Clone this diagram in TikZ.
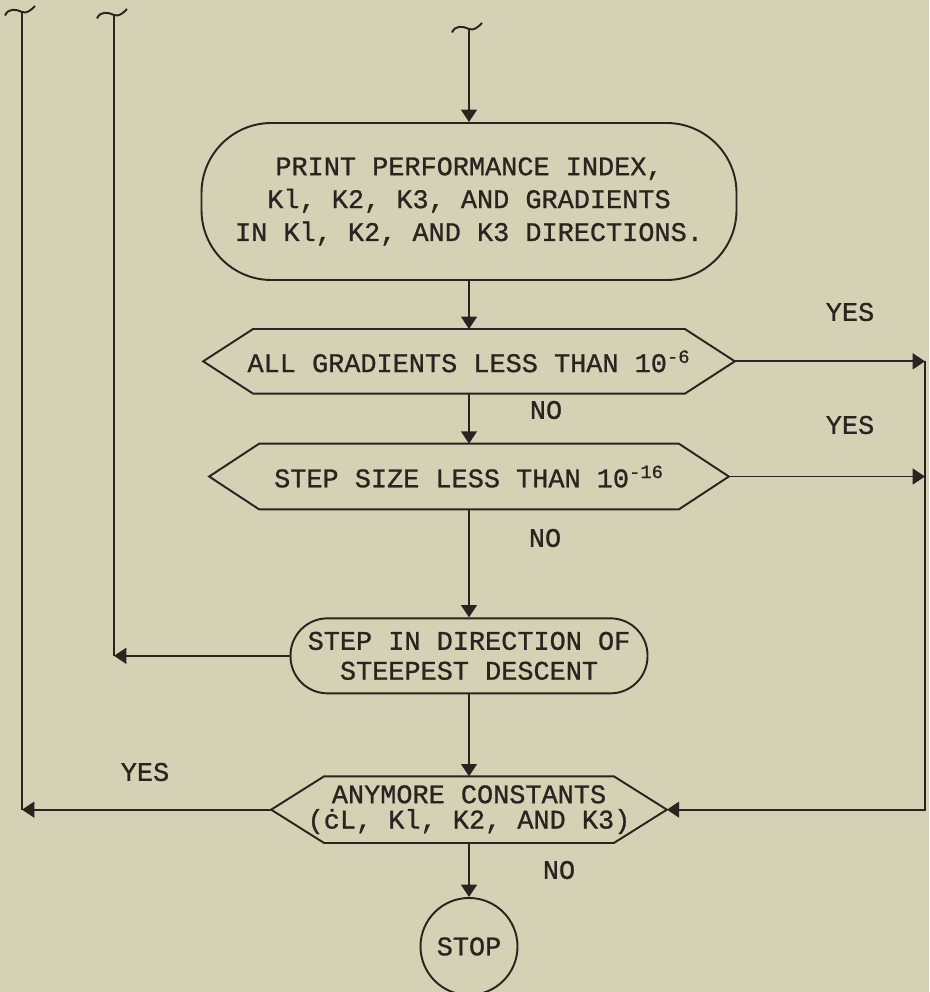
\documentclass[tikz,border=0pt]{standalone}
\usepackage{fontspec}
\newfontfamily\fcmono[BoldFont={Liberation Mono},
  BoldFeatures={FakeBold=0.9}]{Liberation Mono}
\usepackage{tikz}
\usetikzlibrary{arrows.meta,positioning}

\begin{document}
\begin{tikzpicture}[
  color={rgb,255:red,40;green,36;blue,32},
  fcTerm/.style={rectangle, draw, line width=1.1pt,
    align=center, inner sep=2pt,
    font=\fcmono\bfseries\fontsize{15.3}{18.7}\selectfont},
  fcDec/.style={rectangle, inner sep=0pt,
    align=center, font=\fcmono\bfseries\fontsize{15.3}{14.4}\selectfont},
  fcStop/.style={circle, draw, line width=1.1pt,
    minimum size=1.94cm, inner sep=0pt,
    font=\fcmono\bfseries\fontsize{15.3}{18}\selectfont},
  fcLab/.style={inner sep=1pt, font=\fcmono\bfseries\fontsize{15.3}{18}\selectfont},
  fcArr/.style={-{Triangle[length=7pt,width=9pt]}, line width=1pt},
  fcLine/.style={line width=1pt},
]

  %% ── Page and frame ─────────────────────────────────────────
  \fill[fill={rgb,255:red,213;green,209;blue,181}] (0,0) rectangle (18.58,-19.84);
  \useasboundingbox (0,0) rectangle (18.58,-19.84);

  %% ── Loose ends at the top ──────────────────────────────────
  \coordinate (top1) at (0.44,-0.24);
  \coordinate (top2) at (2.28,-0.30);
  \coordinate (top3) at (9.38,-0.58);
  \coordinate (rx)   at (18.50,0);

  %% ── Print block ────────────────────────────────────────────
  \node[fcTerm, rounded corners=1.4cm,
    minimum width=10.7cm, minimum height=3.14cm] (print) at (9.38,-4.03) {%
    PRINT PERFORMANCE INDEX,\\
    Kl, K2, K3, AND GRADIENTS\\
    IN Kl, K2, AND K3 DIRECTIONS.};

  %% ── Tests ──────────────────────────────────────────────────
  \node[fcDec, minimum width=10.62cm, minimum height=1.28cm,
    below=0.96cm of print] (grad) {%
    ALL GRADIENTS LESS THAN 10\textsuperscript{-6}};
  \node[fcDec, minimum width=10.38cm, minimum height=1.30cm,
    below=1.0cm of grad] (size) {%
    STEP SIZE LESS THAN 10\textsuperscript{-16}};

  %% ── Descent step ───────────────────────────────────────────
  \node[fcTerm, rounded corners=0.74cm,
    font=\fcmono\bfseries\fontsize{15.3}{17}\selectfont,
    minimum width=7.14cm, minimum height=1.5cm,
    below=2.16cm of size] (steep) {%
    STEP IN DIRECTION OF\\
    STEEPEST DESCENT};

  %% ── Last test and stop ─────────────────────────────────────
  \node[fcDec, minimum width=7.9cm, minimum height=1.32cm,
    below=1.64cm of steep] (more) {%
    ANYMORE CONSTANTS\\
    (ċL, Kl, K2, AND K3)};
  \node[fcStop, below=1.08cm of more] (stop) {STOP};

  %% ── Hexagon outlines ───────────────────────────────────────
  \foreach \n/\s in {grad/1.0, size/1.0, more/1.06}
    \draw[line width=1.1pt] (\n.west) -- ([xshift=\s cm]\n.north west)
      -- ([xshift=-\s cm]\n.north east) -- (\n.east)
      -- ([xshift=-\s cm]\n.south east) -- ([xshift=\s cm]\n.south west)
      -- cycle;

  %% ── Labels ─────────────────────────────────────────────────
  \node[fcLab] (yes1) at (17.00,-6.24) {YES};
  \node[fcLab] (yes2) at (17.00,-8.50) {YES};
  \node[fcLab] (no1)  at (10.92,-8.20) {NO};
  \node[fcLab] (no2)  at (10.90,-10.76) {NO};
  \node[fcLab] (yes3) at (2.90,-15.44) {YES};
  \node[fcLab] (no3)  at (11.18,-17.40) {NO};

  %% ── Tildes ─────────────────────────────────────────────────
  \foreach \c in {top1, top2, top3}
    \draw[line width=1.1pt] ([shift={(-0.34,-0.07)}]\c)
      .. controls ([shift={(-0.28,0.08)}]\c) and ([shift={(-0.12,0.06)}]\c) .. (\c)
      .. controls ([shift={(0.10,-0.04)}]\c) and ([shift={(0.18,0.04)}]\c)
      .. ([shift={(0.26,0.12)}]\c);

  %% ── Arrows ─────────────────────────────────────────────────
  \draw[fcArr] (top3) -- (print.north);
  \foreach \f/\t in {print/grad, grad/size, size/steep, steep/more, more/stop}
    \draw[fcArr] (\f.south) -- (\t.north);

  \draw[fcArr] (grad.east) -- (grad.east -| rx);
  \draw[fcArr] (size.east) -- (size.east -| rx);
  \draw[fcArr] (grad.east -| rx) -- (more.east -| rx) -- (more.east);

  \draw[fcArr] (steep.west) -- (steep.west -| top2);
  \draw[fcLine] (steep.west -| top2) -- (top2);
  \draw[fcArr] (more.west) -- (more.west -| top1);
  \draw[fcLine] (more.west -| top1) -- (top1);

\end{tikzpicture}
\end{document}
